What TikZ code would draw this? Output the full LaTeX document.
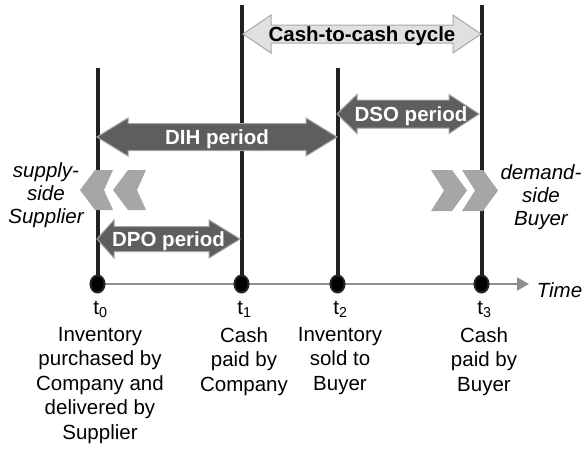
\documentclass[tikz,border=0pt]{standalone}
\usepackage{fontspec}
\setmainfont{Liberation Sans}
\usetikzlibrary{positioning,calc,arrows.meta,backgrounds,shapes.geometric}

\definecolor{linedark}{HTML}{222222}
\definecolor{axisgray}{HTML}{8E8E8E}
\definecolor{cyclefill}{HTML}{E0E0E0}
\definecolor{cycleedge}{HTML}{A8A8A8}
\definecolor{periodfill}{HTML}{5E5E5E}
\definecolor{periodedge}{HTML}{A3A3A3}
\definecolor{chevgray}{HTML}{A6A6A6}

\newcommand{\bigfont}{\fontsize{20.5}{24.5}\selectfont}

% block arrow with two heads: style, from, to, half head, half body, left head, right head
\newcommand{\periodarrow}[7]{%
  \path[#1] (#2) -- ++(#6,#4) -- ++(0,#5-#4) -- ($(#3)+(-#7,#5)$) -- ++(0,#4-#5) -- (#3)
    -- ++(-#7,-#4) -- ++(0,#4-#5) -- ($(#2)+(#6,-#5)$) -- ++(0,#5-#4) -- cycle;}

\begin{document}
\begin{tikzpicture}[x=1pt, y=-1pt,
  every node/.style={font=\bigfont, inner sep=0pt},
  eventline/.style={line width=4pt, draw=linedark},
  timeaxis/.style={line width=2pt, draw=axisgray, -{Triangle[length=12pt,width=13pt]}},
  eventdot/.style={ellipse, minimum width=14pt, minimum height=17pt, fill=black, draw=linedark, line width=2pt},
  cashcycle/.style={fill=cyclefill, draw=cycleedge, line width=1pt},
  period/.style={fill=periodfill, draw=periodedge, line width=1pt},
  chev/.style={fill=chevgray},
  plabel/.style={font=\bigfont\bfseries, text height=14.7pt, text depth=0pt},
  tlabel/.style={anchor=base},
  desc/.style={anchor=north, align=center},
  sidetext/.style={font=\fontsize{20.5}{23}\selectfont\itshape, align=center}]
	\useasboundingbox (0,0) rectangle (585,450);

	% events on the time line
	\node[eventdot] (d0) at (97.5,284) {};
	\node[eventdot] (d1) at (241.5,284) {};
	\node[eventdot] (d2) at (337.5,284) {};
	\node[eventdot] (d3) at (481.5,284) {};
	\coordinate (top0) at (97.5,68);
	\coordinate (top1) at (241.5,5);
	\coordinate (top2) at (337.5,68);
	\coordinate (top3) at (481.5,5);
	\coordinate (tip) at (529,284);

	\begin{pgfonlayer}{background}
		\foreach \i in {0,...,3}
			\draw[eventline] (d\i.center) -- (top\i);
		\draw[timeaxis] (d0.center) -- (tip);
	\end{pgfonlayer}

	% periods
	\coordinate (ccc-a) at (243,34);  \coordinate (ccc-b) at (481,34);
	\coordinate (dih-a) at (97,137);  \coordinate (dih-b) at (337,137);
	\coordinate (dso-a) at (337,114); \coordinate (dso-b) at (479,114);
	\coordinate (dpo-a) at (97,239);  \coordinate (dpo-b) at (240,239);

	\periodarrow{cashcycle}{ccc-a}{ccc-b}{19}{9}{28}{28}
	\periodarrow{period}{dih-a}{dih-b}{19}{13.5}{31}{31}
	\periodarrow{period}{dso-a}{dso-b}{19.5}{14}{20}{30}
	\periodarrow{period}{dpo-a}{dpo-b}{19}{12.5}{17}{31}

	\node[plabel] (ccc) at ($(ccc-a)!.5!(ccc-b)$) {Cash-to-cash cycle};
	\node[plabel, text=white] (dih) at ($(dih-a)!.5!(dih-b)$) {DIH period};
	\node[plabel, text=white, xshift=3pt] (dso) at ($(dso-a)!.5!(dso-b)$) {DSO period};
	\node[plabel, text=white] (dpo) at ($(dpo-a)!.5!(dpo-b)$) {DPO period};

	% supply and demand chevrons
	\foreach \x in {80,113}
		\fill[chev] (\x,190) -- ++(15,-20) -- ++(18,0) -- ++(-9,20) -- ++(9,20) -- ++(-18,0) -- cycle;
	\foreach \x in {431,462}
		\fill[chev] (\x,170) -- ++(21,0) -- ++(15,20.5) -- ++(-15,20.5) -- ++(-21,0) -- ++(13,-20.5) -- cycle;

	\node[sidetext] (supply) at (46,195) {supply-\\side\\Supplier};
	\node[sidetext] (demand) at (541,197) {demand-\\side\\Buyer};
	\node[tlabel, font=\bigfont\itshape] (time) at (559.5,297) {Time};

	% labels under the events
	\node[tlabel] (l0) at (100.5,314) {t\textsubscript{0}};
	\node[tlabel] (l1) at (244.5,314) {t\textsubscript{1}};
	\node[tlabel] (l2) at (340.5,314) {t\textsubscript{2}};
	\node[tlabel] (l3) at (484.5,314) {t\textsubscript{3}};

	\node[desc] (c0) at (100,327) {Inventory\\purchased by\\Company and\\delivered by\\Supplier};
	\node[desc] (c1) at (244,327) {Cash\\paid by\\Company};
	\node[desc] (c2) at (340,327) {Inventory\\sold to\\Buyer};
	\node[desc] (c3) at (484,327) {Cash\\paid by\\Buyer};
\end{tikzpicture}
\end{document}
